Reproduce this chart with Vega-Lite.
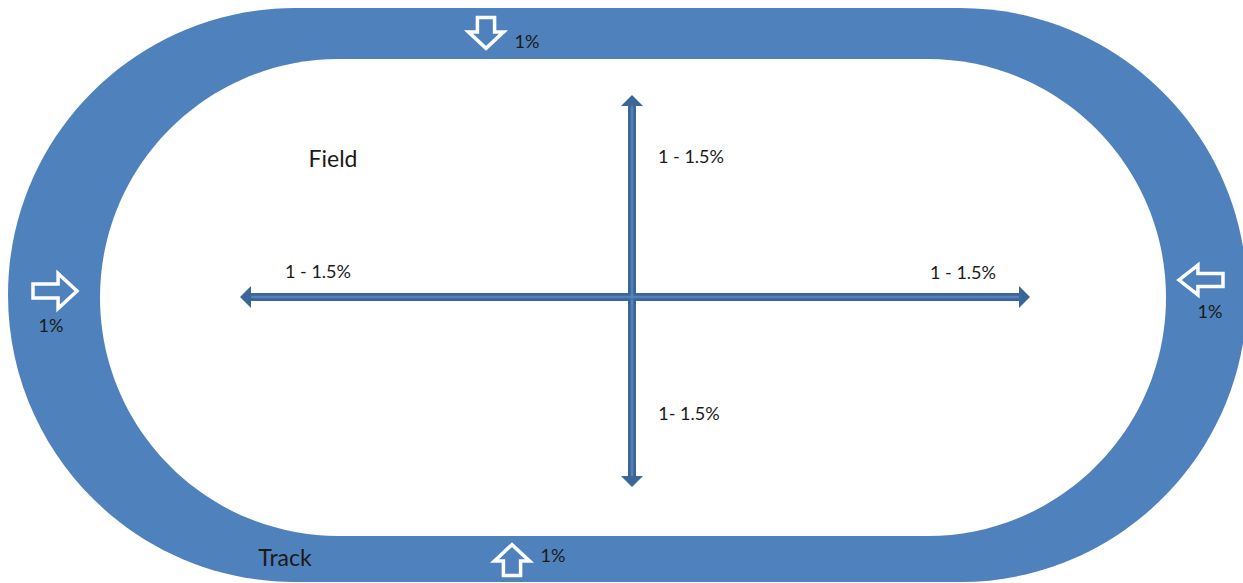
{
  "$schema": "https://vega.github.io/schema/vega-lite/v6.json",
  "width": 1243,
  "height": 583,
  "padding": 0,
  "autosize": {"type": "none"},
  "background": "white",
  "config": {"view": {"stroke": null}},
  "resolve": {"scale": {"shape": "independent"}},
  "layer": [
    {
      "data": {"values": [
        {"part": "track", "x": 8, "x2": 1247, "y": 8, "y2": 582}
      ]},
      "mark": {"type": "rect", "color": "#4f81bd", "cornerRadius": 287},
      "encoding": {
        "x": {"field": "x", "type": "quantitative", "scale": {"domain": [0, 1243], "nice": false, "zero": false}, "axis": null},
        "x2": {"field": "x2"},
        "y": {"field": "y", "type": "quantitative", "scale": {"domain": [0, 583], "nice": false, "zero": false, "reverse": true}, "axis": null},
        "y2": {"field": "y2"}
      }
    },
    {
      "data": {"values": [
        {"part": "field", "x": 100, "x2": 1166, "y": 59, "y2": 536}
      ]},
      "mark": {"type": "rect", "color": "#ffffff", "cornerRadius": 238.5},
      "encoding": {
        "x": {"field": "x", "type": "quantitative", "scale": {"domain": [0, 1243], "nice": false, "zero": false}, "axis": null},
        "x2": {"field": "x2"},
        "y": {"field": "y", "type": "quantitative", "scale": {"domain": [0, 583], "nice": false, "zero": false, "reverse": true}, "axis": null},
        "y2": {"field": "y2"}
      }
    },
    {
      "data": {"values": [
        {"line": "horizontal", "x": 250, "x2": 1020, "y": 297, "y2": 297},
        {"line": "vertical", "x": 632, "x2": 632, "y": 105, "y2": 477}
      ]},
      "mark": {"type": "rule", "color": "#3b6698", "strokeWidth": 8, "strokeCap": "butt"},
      "encoding": {
        "x": {"field": "x", "type": "quantitative", "scale": {"domain": [0, 1243], "nice": false, "zero": false}, "axis": null},
        "x2": {"field": "x2"},
        "y": {"field": "y", "type": "quantitative", "scale": {"domain": [0, 583], "nice": false, "zero": false, "reverse": true}, "axis": null},
        "y2": {"field": "y2"}
      }
    },
    {
      "data": {"values": [
        {"line": "horizontal", "x": 250, "x2": 1020, "y": 297, "y2": 297},
        {"line": "vertical", "x": 632, "x2": 632, "y": 105, "y2": 477}
      ]},
      "mark": {"type": "rule", "color": "#5b88c2", "strokeWidth": 2.5, "strokeCap": "butt", "opacity": 0.8},
      "encoding": {
        "x": {"field": "x", "type": "quantitative", "scale": {"domain": [0, 1243], "nice": false, "zero": false}, "axis": null},
        "x2": {"field": "x2"},
        "y": {"field": "y", "type": "quantitative", "scale": {"domain": [0, 583], "nice": false, "zero": false, "reverse": true}, "axis": null},
        "y2": {"field": "y2"}
      }
    },
    {
      "data": {"values": [
        {"head": "left", "x": 240, "y": 297},
        {"head": "right", "x": 1030, "y": 297},
        {"head": "up", "x": 632, "y": 95},
        {"head": "down", "x": 632, "y": 487}
      ]},
      "mark": {"type": "point", "filled": true, "size": 484, "color": "#3b6698", "opacity": 1},
      "encoding": {
        "x": {"field": "x", "type": "quantitative", "scale": {"domain": [0, 1243], "nice": false, "zero": false}, "axis": null},
        "y": {"field": "y", "type": "quantitative", "scale": {"domain": [0, 583], "nice": false, "zero": false, "reverse": true}, "axis": null},
        "shape": {
          "field": "head", "type": "nominal", "legend": null,
          "scale": {
            "domain": ["up", "down", "left", "right"],
            "range": ["M0,0L1,1L-1,1Z", "M0,0L1,-1L-1,-1Z", "M0,0L1,1L1,-1Z", "M0,0L-1,1L-1,-1Z"]
          }
        }
      }
    },
    {
      "data": {"values": [
        {"slope": "down", "x": 486, "y": 33},
        {"slope": "up", "x": 512, "y": 560},
        {"slope": "right", "x": 55, "y": 291},
        {"slope": "left", "x": 1201, "y": 280}
      ]},
      "mark": {"type": "point", "filled": true, "size": 1936, "fill": "#4f81bd", "stroke": "#ffffff", "strokeWidth": 3.5, "opacity": 1, "strokeJoin": "miter"},
      "encoding": {
        "x": {"field": "x", "type": "quantitative", "scale": {"domain": [0, 1243], "nice": false, "zero": false}, "axis": null},
        "y": {"field": "y", "type": "quantitative", "scale": {"domain": [0, 583], "nice": false, "zero": false, "reverse": true}, "axis": null},
        "shape": {
          "field": "slope", "type": "nominal", "legend": null,
          "scale": {
            "domain": ["down", "up", "right", "left"],
            "range": [
              "M-0.39,-0.7L0.39,-0.7L0.39,-0.05L0.8,-0.05L0,0.7L-0.8,-0.05L-0.39,-0.05Z",
              "M-0.39,0.7L0.39,0.7L0.39,0.05L0.8,0.05L0,-0.7L-0.8,0.05L-0.39,0.05Z",
              "M-1,-0.32L0.14,-0.32L0.14,-0.8L1,0L0.14,0.8L0.14,0.32L-1,0.32Z",
              "M1,-0.3L-0.14,-0.3L-0.14,-0.68L-1,0L-0.14,0.68L-0.14,0.3L1,0.3Z"
            ]
          }
        }
      }
    },
    {
      "data": {"values": [
        {"label": "1%", "x": 527, "y": 43},
        {"label": "1%", "x": 51, "y": 327},
        {"label": "1%", "x": 1210, "y": 313},
        {"label": "1%", "x": 553, "y": 557},
        {"label": "1 - 1.5%", "x": 691, "y": 158},
        {"label": "1 - 1.5%", "x": 318, "y": 273},
        {"label": "1 - 1.5%", "x": 963, "y": 274},
        {"label": "1- 1.5%", "x": 689, "y": 415}
      ]},
      "mark": {"type": "text", "font": "Lato", "fontSize": 18, "color": "#1a1a1a", "align": "center", "baseline": "middle"},
      "encoding": {
        "x": {"field": "x", "type": "quantitative", "scale": {"domain": [0, 1243], "nice": false, "zero": false}, "axis": null},
        "y": {"field": "y", "type": "quantitative", "scale": {"domain": [0, 583], "nice": false, "zero": false, "reverse": true}, "axis": null},
        "text": {"field": "label", "type": "nominal"}
      }
    },
    {
      "data": {"values": [
        {"label": "Field", "x": 333, "y": 160},
        {"label": "Track", "x": 285, "y": 559}
      ]},
      "mark": {"type": "text", "font": "Lato", "fontSize": 23, "color": "#1a1a1a", "align": "center", "baseline": "middle"},
      "encoding": {
        "x": {"field": "x", "type": "quantitative", "scale": {"domain": [0, 1243], "nice": false, "zero": false}, "axis": null},
        "y": {"field": "y", "type": "quantitative", "scale": {"domain": [0, 583], "nice": false, "zero": false, "reverse": true}, "axis": null},
        "text": {"field": "label", "type": "nominal"}
      }
    }
  ]
}
